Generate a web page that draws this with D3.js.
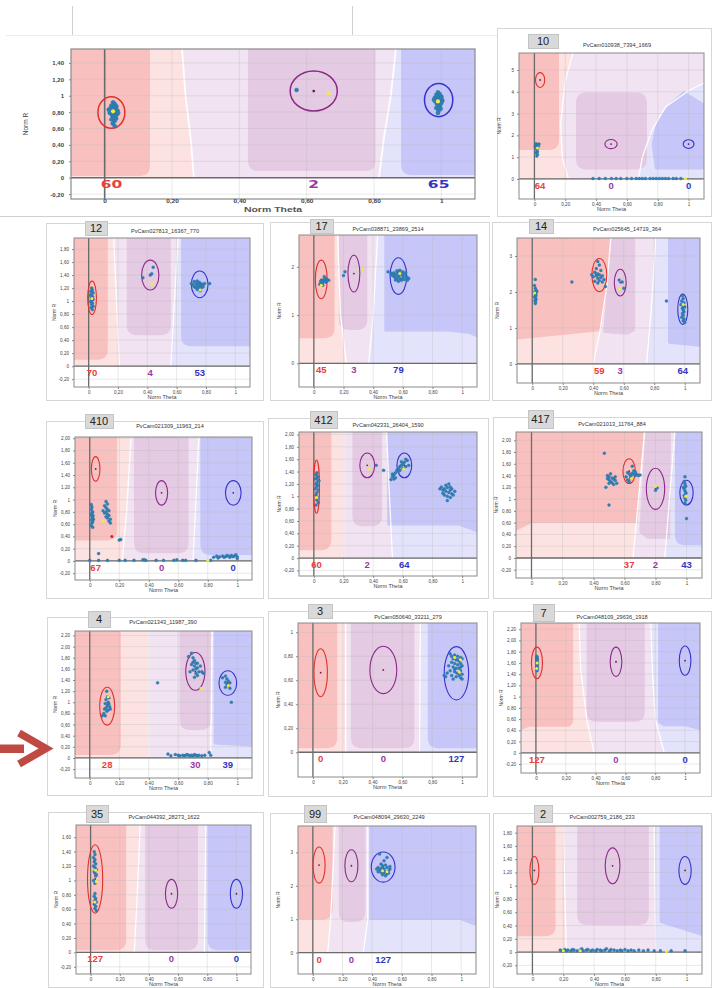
<!DOCTYPE html>
<html><head><meta charset="utf-8">
<script src="https://cdn.jsdelivr.net/npm/d3@7"></script>
<style>html,body{margin:0;padding:0;background:#fff;} svg{display:block;font-family:"Liberation Sans",Arial,sans-serif;}</style>
</head><body><svg id="chart" width="712" height="988"></svg>
<script>
// ---------- tick values ----------
const xTicks = [0, 0.2, 0.4, 0.6, 0.8, 1];
const rTicks14 = [-0.2, 0, 0.2, 0.4, 0.6, 0.8, 1, 1.2, 1.4];
const rTicks16 = [-0.2, 0, 0.2, 0.4, 0.6, 0.8, 1, 1.2, 1.4, 1.6];
const rTicks18 = [-0.2, 0, 0.2, 0.4, 0.6, 0.8, 1, 1.2, 1.4, 1.6, 1.8];
const rTicks20 = [-0.2, 0, 0.2, 0.4, 0.6, 0.8, 1, 1.2, 1.4, 1.6, 1.8, 2];
const rTicks22 = [-0.2, 0, 0.2, 0.4, 0.6, 0.8, 1, 1.2, 1.4, 1.6, 1.8, 2, 2.2];
const rTicks10 = [0, 0.2, 0.4, 0.6, 0.8, 1];
const rTicksI2 = [0, 1, 2];
const rTicksI3 = [0, 1, 2, 3];
const rTicksI5 = [0, 1, 2, 3, 4, 5];

// ---------- assay names and plate numbers ----------
const assayNames = {
  p10: "PvCam010938_7394_1669", p12: "PvCam027813_16367_770", p17: "PvCam038871_23869_2514",
  p14: "PvCam025645_14719_364", p410: "PvCam021309_11963_214", p412: "PvCam042331_26404_1590",
  p417: "PvCam021013_11764_884", p4: "PvCam021343_11987_390", p3: "PvCam050640_33211_279",
  p7: "PvCam048109_29636_1918", p35: "PvCam044392_28273_1622", p99: "PvCam048094_29630_2249",
  p2: "PvCam002759_2186_233"
};
const plateNumbers = {p10:"10",p12:"12",p17:"17",p14:"14",p410:"410",p412:"412",p417:"417",p4:"4",p3:"3",p7:"7",p35:"35",p99:"99",p2:"2"};

// ---------- genotype call counts (allele 1, heterozygote, allele 2) ----------
const mainCounts = [60, 2, 65];
const p10Counts = [64, 0, 0];
const p12Counts = [70, 4, 53];
const p17Counts = [45, 3, 79];
const p14Counts = [59, 3, 64];
const p410Counts = [67, 0, 0];
const p412Counts = [60, 2, 64];
const p417Counts = [37, 2, 43];
const p4Counts = [28, 30, 39];
const p3Counts = [0, 0, 127];
const p7Counts = [127, 0, 0];
const p35Counts = [127, 0, 0];
const p99Counts = [0, 0, 127];
const p2Counts = null;

// ---------- cluster ellipses [theta, R, rTheta, rR] ----------
const mainEll = [[0.02,0.795,0.04,0.193],[0.621,1.057,0.07,0.244],[0.992,0.947,0.042,0.203]];
const p10Ell = [[0.037,4.54,0.03,0.34],[0.497,1.6,0.04,0.21],[1.0,1.6,0.035,0.2]];
const p12Ell = [[0.023,1.05,0.03,0.257],[0.42,1.4,0.059,0.23],[0.757,1.257,0.057,0.205]];
const p17Ell = [[0.05,1.74,0.04,0.4],[0.27,1.86,0.04,0.38],[0.57,1.81,0.056,0.38]];
const p14Ell = [[0.44,2.47,0.049,0.46],[0.577,2.26,0.039,0.37],[0.987,1.52,0.033,0.42]];
const p410Ell = [[0.04,1.5,0.029,0.2],[0.487,1.11,0.041,0.2],[0.973,1.11,0.053,0.2]];
const p412Ell = [[0.018,1.155,0.02,0.43],[0.36,1.5,0.05,0.2],[0.61,1.5,0.05,0.2]];
const p417Ell = [[0.63,1.475,0.04,0.21],[0.8,1.175,0.059,0.35],[1.0,1.11,0.043,0.21]];
const p4Ell = [[0.118,0.93,0.051,0.34],[0.716,1.555,0.065,0.34],[0.936,1.345,0.06,0.22]];
const p3Ell = [[0.052,0.663,0.045,0.2],[0.472,0.686,0.09,0.197],[0.962,0.658,0.082,0.222]];
const p7Ell = [[0.007,1.6,0.037,0.28],[0.537,1.62,0.039,0.26],[1.0,1.64,0.039,0.26]];
const p35Ell = [[0.031,1.02,0.052,0.475],[0.555,0.815,0.042,0.2],[1.0,0.815,0.042,0.2]];
const p99Ell = [[0.042,2.62,0.041,0.54],[0.26,2.6,0.044,0.48],[0.474,2.56,0.08,0.45]];
const p2Ell = [[0.013,1.23,0.029,0.21],[0.52,1.3,0.048,0.27],[0.99,1.23,0.04,0.21]];

// ---------- samples [Norm Theta, Norm R] ----------
const mainPts = [[0.025,0.92],[0.03,0.9],[0.02,0.88],[0.035,0.87],[0.028,0.86],[0.018,0.85],[0.032,0.84],[0.024,0.83],[0.038,0.82],[0.02,0.81],[0.03,0.8],[0.015,0.79],[0.027,0.78],[0.036,0.77],[0.022,0.76],[0.031,0.75],[0.026,0.73],[0.034,0.72],[0.02,0.71],[0.029,0.69],[0.024,0.66],[0.03,0.63],[0.04,0.79],[0.012,0.83],
  [0.99,1.04],[0.995,1.02],[0.985,1.01],[1.0,0.99],[0.99,0.98],[0.98,0.97],[0.997,0.96],[0.988,0.95],[1.003,0.94],[0.982,0.93],[0.993,0.92],[1.0,0.91],[0.987,0.9],[0.996,0.88],[0.99,0.87],[0.985,0.85],[0.998,0.84],[0.992,0.82],[0.99,0.79],[1.0,0.97],[0.978,0.95],
  [0.57,1.07]];
const mainHi = [[0.025,0.81],[0.99,0.93],[0.665,1.03]];

const p10Pts = [[0.01,1.62],[0.02,1.58],[0.015,1.55],[0.025,1.5],[0.01,1.45],[0.02,1.4],[0.015,1.33],[0.02,1.25],[0.01,1.2],[0.02,1.12],[0.015,1.05],[0.03,1.6],[0.005,1.5],
  [0.38,0.02],[0.42,0.02],[0.46,0.02],[0.5,0.02],[0.53,0.02],[0.56,0.02],[0.6,0.02],[0.63,0.02],[0.66,0.02],[0.68,0.02],[0.7,0.02],[0.72,0.02],[0.75,0.02],[0.77,0.02],[0.79,0.02],[0.81,0.02],[0.83,0.02],[0.85,0.02],[0.87,0.02],[0.9,0.02],[0.92,0.02],[0.95,0.02]];
const p10Hi = [[0.02,1.42],[0.98,0.02]];

const p12Pts = [[0.02,1.2],[0.025,1.17],[0.015,1.15],[0.03,1.13],[0.02,1.11],[0.012,1.09],[0.027,1.07],[0.018,1.05],[0.03,1.03],[0.02,1.01],[0.014,0.99],[0.026,0.97],[0.02,0.95],[0.03,0.92],[0.017,0.9],[0.025,0.87],
  [0.44,1.52],[0.43,1.42],[0.42,1.4],[0.37,1.36],
  [0.72,1.3],[0.74,1.31],[0.75,1.29],[0.73,1.27],[0.76,1.28],[0.77,1.26],[0.71,1.25],[0.74,1.24],[0.76,1.23],[0.78,1.25],[0.73,1.21],[0.75,1.2],[0.77,1.21],[0.74,1.18],[0.76,1.16],[0.72,1.22],[0.79,1.27],[0.7,1.27],[0.75,1.26],[0.78,1.22],[0.825,1.27]];
const p12Hi = [[0.022,1.04],[0.43,1.27],[0.76,1.17]];

const p17Pts = [[0.04,1.64],[0.05,1.66],[0.06,1.68],[0.055,1.72],[0.07,1.74],[0.065,1.7],[0.08,1.76],[0.075,1.72],[0.09,1.74],[0.085,1.7],[0.06,1.62],[0.1,1.72],[0.07,1.8],[0.08,1.68],[0.045,1.7],
  [0.2,1.82],[0.21,1.9],
  [0.52,1.87],[0.53,1.85],[0.54,1.88],[0.55,1.83],[0.56,1.86],[0.57,1.9],[0.58,1.84],[0.59,1.87],[0.6,1.82],[0.61,1.85],[0.62,1.8],[0.63,1.78],[0.55,1.78],[0.56,1.75],[0.58,1.76],[0.6,1.77],[0.57,1.8],[0.59,1.72],[0.61,1.74],[0.54,1.8],[0.63,1.72],[0.58,1.93],[0.56,1.92],[0.62,1.88],[0.5,1.9],[0.53,1.82],[0.6,1.9],[0.64,1.76],[0.57,1.7],[0.55,1.73]];
const p17Hi = [[0.05,1.62],[0.33,1.95],[0.58,1.86]];

const p14Pts = [[0.02,2.35],[0.015,2.18],[0.02,2.1],[0.025,2.05],[0.015,2.0],[0.02,1.95],[0.025,1.9],[0.015,1.87],[0.02,1.84],[0.025,1.8],[0.018,1.76],[0.022,1.72],[0.02,1.68],[0.025,1.98],[0.03,2.02],
  [0.26,2.28],
  [0.43,2.85],[0.44,2.75],[0.42,2.65],[0.45,2.6],[0.41,2.55],[0.43,2.5],[0.44,2.48],[0.46,2.45],[0.42,2.45],[0.4,2.42],[0.45,2.4],[0.43,2.38],[0.47,2.35],[0.44,2.32],[0.41,2.3],[0.46,2.28],[0.43,2.25],[0.48,2.15],[0.42,2.5],[0.39,2.48],
  [0.57,2.33],[0.59,2.28],[0.6,2.1],
  [0.88,1.75],
  [0.985,1.9],[0.99,1.82],[0.98,1.75],[0.995,1.7],[0.99,1.62],[0.985,1.55],[0.99,1.5],[0.995,1.45],[0.985,1.4],[0.99,1.35],[0.98,1.3],[0.995,1.25],[0.99,1.2],[1.0,1.15],[0.975,1.65],[1.0,1.58]];
const p14Hi = [[0.015,1.97],[0.575,2.1],[0.99,1.65]];

const p410Pts = [[0.01,0.92],[0.015,0.88],[0.012,0.84],[0.02,0.8],[0.015,0.78],[0.01,0.75],[0.02,0.72],[0.018,0.7],[0.012,0.67],[0.02,0.64],[0.015,0.62],[0.01,0.58],[0.02,0.55],[0.025,0.68],[0.022,0.74],
  [0.11,0.97],[0.12,0.93],[0.1,0.9],[0.11,0.87],[0.12,0.84],[0.13,0.82],[0.11,0.8],[0.1,0.78],[0.12,0.76],[0.13,0.74],[0.11,0.72],[0.12,0.7],[0.14,0.68],[0.13,0.65],[0.14,0.62],[0.09,0.82],
  [0.2,0.34],[0.21,0.35],[0.06,0.12],
  [0.0,0.01],[0.06,0.01],[0.12,0.01],[0.2,0.01],[0.24,0.01],[0.3,0.01],[0.36,0.02],[0.37,0.02],[0.38,0.01],[0.45,0.01],[0.5,0.01],[0.57,0.01],[0.59,0.02],[0.63,0.01],[0.65,0.01],[0.72,0.01],[0.82,0.01],
  [0.84,0.06],[0.86,0.08],[0.88,0.07],[0.9,0.08],[0.92,0.07],[0.94,0.08],[0.96,0.09],[0.98,0.08],[1.0,0.07],[0.87,0.05],[0.91,0.06],[0.95,0.06],[0.99,0.1],[1.0,0.04],[0.93,0.09],[0.97,0.07]];
const p410Hi = [[0.09,0.65],[0.8,0.01]];
const p410Red = [[0.15,0.4]];

const p412Pts = [[0.02,1.38],[0.015,1.35],[0.025,1.32],[0.02,1.3],[0.01,1.28],[0.03,1.26],[0.02,1.22],[0.015,1.2],[0.025,1.18],[0.02,1.15],[0.01,1.12],[0.03,1.1],[0.02,1.06],[0.015,1.02],[0.025,0.98],[0.02,0.94],[0.03,0.9],[0.015,0.86],[0.035,1.25],
  [0.42,1.5],[0.47,1.42],
  [0.52,1.27],[0.53,1.32],[0.54,1.35],[0.55,1.38],[0.56,1.42],[0.57,1.45],[0.58,1.48],[0.59,1.5],[0.6,1.52],[0.61,1.55],[0.62,1.6],[0.63,1.58],[0.58,1.42],[0.55,1.3],[0.57,1.4],[0.64,1.5],[0.6,1.45],[0.54,1.28],[0.59,1.56],[0.53,1.36],[0.62,1.48],
  [0.86,1.15],[0.87,1.1],[0.88,1.12],[0.89,1.08],[0.9,1.14],[0.91,1.06],[0.92,1.1],[0.93,1.04],[0.88,1.02],[0.9,1.0],[0.92,0.98],[0.94,1.02],[0.89,1.18],[0.91,1.2],[0.87,1.05],[0.93,1.12],[0.9,0.93],[0.95,1.08],[0.85,1.12],[0.92,1.15]];
const p412Hi = [[0.02,0.98],[0.375,1.44],[0.605,1.44]];

const p417Pts = [[0.49,1.4],[0.5,1.38],[0.51,1.43],[0.52,1.36],[0.5,1.33],[0.53,1.34],[0.51,1.3],[0.54,1.32],[0.52,1.28],[0.55,1.27],[0.53,1.25],[0.49,1.35],[0.5,1.27],[0.54,1.38],
  [0.47,1.78],[0.48,1.2],[0.5,0.9],
  [0.62,1.45],[0.63,1.43],[0.64,1.4],[0.65,1.44],[0.66,1.42],[0.67,1.4],[0.68,1.42],[0.69,1.4],[0.7,1.41],[0.64,1.35],[0.63,1.3],[0.66,1.48],[0.65,1.56],[0.61,1.38],[0.62,1.33],[0.67,1.46],[0.64,1.38],
  [0.81,1.19],[0.8,1.15],
  [0.99,1.38],[0.985,1.3],[0.99,1.26],[0.995,1.22],[0.985,1.18],[0.99,1.14],[0.995,1.1],[0.985,1.06],[0.99,1.02],[0.995,0.98],[0.99,0.93],[0.98,1.2],[1.0,0.67]];
const p417Hi = [[0.645,1.35],[0.8,1.22],[0.995,1.05]];

const p4Pts = [[0.115,1.2],[0.12,1.1],[0.13,1.08],[0.11,1.05],[0.125,1.0],[0.105,0.98],[0.12,0.95],[0.135,0.92],[0.11,0.9],[0.1,0.88],[0.125,0.86],[0.115,0.84],[0.095,0.8],[0.105,0.76],[0.085,0.76],[0.14,0.88],[0.13,0.97],
  [0.46,1.35],
  [0.69,1.88],[0.67,1.82],[0.7,1.8],[0.71,1.75],[0.7,1.72],[0.72,1.7],[0.69,1.68],[0.71,1.65],[0.73,1.62],[0.72,1.6],[0.7,1.58],[0.74,1.55],[0.72,1.52],[0.73,1.48],[0.76,1.55],[0.77,1.52],[0.68,1.55],[0.71,1.45],[0.75,1.65],[0.73,1.7],
  [0.92,1.47],[0.9,1.44],[0.93,1.42],[0.94,1.38],[0.92,1.36],[0.95,1.35],[0.93,1.32],[0.94,1.3],[0.92,1.27],[0.95,1.25],[0.96,1.0],
  [0.53,0.07],[0.55,0.04],[0.58,0.06],[0.6,0.05],[0.61,0.04],[0.63,0.05],[0.64,0.04],[0.65,0.05],[0.66,0.06],[0.67,0.05],[0.68,0.04],[0.69,0.05],[0.7,0.04],[0.71,0.06],[0.72,0.05],[0.73,0.04],[0.74,0.05],[0.76,0.04],[0.78,0.05],[0.81,0.1],[0.82,0.05]];
const p4Hi = [[0.125,1.1],[0.755,1.25],[0.94,1.3]];

const p3Pts = [[0.92,0.82],[0.93,0.8],[0.95,0.81],[0.97,0.8],[0.99,0.79],[0.94,0.78],[0.96,0.77],[0.98,0.76],[1.0,0.78],[0.93,0.75],[0.95,0.74],[0.97,0.73],[0.99,0.74],[0.91,0.72],[0.94,0.71],[0.96,0.7],[0.98,0.7],[1.0,0.72],[0.92,0.68],[0.95,0.67],[0.97,0.66],[0.99,0.68],[0.9,0.66],[0.93,0.64],[0.96,0.63],[0.98,0.64],[1.0,0.65],[0.88,0.64],[0.89,0.63],[0.94,0.61],[0.99,0.62],[1.0,0.61],[0.95,0.69],[0.97,0.77],[0.99,0.71]];
const p3Hi = [[0.95,0.79],[0.99,0.77],[0.98,0.67]];

const p7Pts = [[0.005,1.72],[0.008,1.7],[0.004,1.68],[0.01,1.66],[0.006,1.64],[0.008,1.62],[0.004,1.6],[0.01,1.58],[0.006,1.56],[0.008,1.54],[0.004,1.52],[0.01,1.5],[0.006,1.48],[0.008,1.46]];
const p7Hi = [[0.008,1.6],[0.005,1.5]];

const p35Pts = [[0.025,1.4],[0.03,1.36],[0.02,1.32],[0.03,1.29],[0.025,1.26],[0.035,1.23],[0.02,1.2],[0.03,1.18],[0.04,1.15],[0.025,1.12],[0.03,1.1],[0.035,1.06],[0.02,1.0],[0.03,0.96],[0.04,1.08],[0.03,0.82],[0.025,0.78],[0.035,0.75],[0.03,0.72],[0.04,0.7],[0.025,0.67],[0.035,0.64],[0.03,0.61],[0.04,0.58]];
const p35Hi = [[0.035,1.14],[0.04,0.98],[0.03,0.7]];

const p99Pts = [[0.45,2.95],[0.5,2.85],[0.48,2.75],[0.46,2.65],[0.47,2.6],[0.49,2.62],[0.44,2.55],[0.46,2.52],[0.48,2.5],[0.5,2.55],[0.52,2.5],[0.45,2.47],[0.47,2.45],[0.49,2.42],[0.51,2.44],[0.46,2.4],[0.48,2.38],[0.5,2.36],[0.47,2.33],[0.49,2.3],[0.44,2.42],[0.52,2.58],[0.43,2.5],[0.51,2.38]];
const p99Hi = [[0.47,2.45],[0.5,2.42]];

const p2Pts = [[0.18,0.03],[0.19,0.02],[0.21,0.04],[0.22,0.02],[0.23,0.03],[0.25,0.02],[0.26,0.04],[0.27,0.03],[0.29,0.02],[0.31,0.03],[0.32,0.05],[0.33,0.02],[0.35,0.03],[0.36,0.04],[0.38,0.02],[0.39,0.03],[0.41,0.02],[0.42,0.04],[0.44,0.03],[0.45,0.02],[0.47,0.03],[0.48,0.05],[0.5,0.02],[0.51,0.04],[0.53,0.03],[0.55,0.02],[0.57,0.03],[0.58,0.02],[0.6,0.04],[0.62,0.02],[0.64,0.03],[0.66,0.02],[0.69,0.03],[0.72,0.02],[0.75,0.03],[0.79,0.02],[0.83,0.02],[0.9,0.02],[0.99,0.02]];
const p2Hi = [[0.2,0.02],[0.31,0.02],[0.87,0.01]];

// ---------- calling regions: band boundaries and core regions ----------
const regions = {
  main: {b1:[[0.265,0],[0.255,0.5],[0.24,1.0],[0.23,1.57]], b2:[[0.815,0],[0.83,0.5],[0.85,1.0],[0.865,1.57]],
    core:[{c:0,rect:[-0.15,0.13,0.04]},{c:1,rect:[0.43,0.8,0.1]},{c:2,rect:[0.885,1.15,0.05]}]},
  p10: {b1:[[0.22,0],[0.18,1.0],[0.17,2.5],[0.2,4.5],[0.25,5.78]], b2:[[0.675,0],[0.7,1.0],[0.76,2.2],[0.85,3.3],[1.0,4.05],[1.1,4.4],[1.15,5.78]],
    core:[{c:0,rect:[-0.15,0.15,1.4]},{c:1,rect:[0.28,0.72,0.5,3.9]},{c:2,poly:[[0.79,0.5],[0.77,1.6],[0.8,2.6],[0.88,3.4],[0.97,3.95],[1.05,3.6],[1.15,3.2],[1.15,0.5]]}]},
  p12: {b1:[[0.21,0],[0.19,1.0],[0.17,1.97]], b2:[[0.56,0],[0.58,0.8],[0.61,1.97]],
    core:[{c:0,rect:[-0.15,0.12,0.12]},{c:1,rect:[0.27,0.55,0.5]},{c:2,rect:[0.64,1.15,0.33]}]},
  p17: {b1:[[0.22,0],[0.18,1.0],[0.16,2.66]], b2:[[0.37,0],[0.4,1.0],[0.43,2.66]],
    core:[{c:0,rect:[-0.15,0.13,0.55]},{c:1,rect:[0.18,0.35,0.72]},{c:2,poly:[[0.485,0.69],[0.485,2.8],[1.15,2.8],[1.15,0.5],[1.05,0.64],[0.9,0.69]]}]},
  p14: {b1:[[0.4,0],[0.445,0.94],[0.49,2.2],[0.515,3.5]], b2:[[0.75,0],[0.78,1.5],[0.81,3.5]],
    core:[{c:0,poly:[[-0.15,0.7],[0.44,0.95],[0.48,2.0],[0.505,3.6],[-0.15,3.6]]},{c:1,poly:[[0.475,0.9],[0.53,3.6],[0.665,3.6],[0.665,0.95],[0.62,0.85]]},{c:2,poly:[[0.9,0.6],[0.9,3.6],[1.15,3.6],[1.15,0.5]]}]},
  p410: {b1:[[0.22,0],[0.25,0.8],[0.28,2.02]], b2:[[0.7,0],[0.72,1.0],[0.74,2.02]],
    core:[{c:0,rect:[-0.15,0.175,0.36]},{c:1,rect:[0.31,0.66,0.15]},{c:2,rect:[0.76,1.15,0.12]}]},
  p412: {b1:[[0.2,0],[0.2,2.04]], b2:[[0.53,0],[0.51,1.0],[0.49,2.04]],
    core:[{c:0,rect:[-0.15,0.108,0.15]},{c:1,rect:[0.27,0.45,0.54]},{c:2,poly:[[0.505,0.55],[0.505,2.1],[1.15,2.1],[1.15,0.4],[0.98,0.55]]}]},
  p417: {b1:[[0.655,0],[0.69,1.0],[0.73,2.14]], b2:[[0.86,0],[0.89,1.0],[0.925,2.14]],
    core:[{c:0,poly:[[-0.15,0.42],[-0.15,2.2],[0.715,2.2],[0.675,0.62],[0.0,0.62]]},{c:1,poly:[[0.705,0.45],[0.745,2.2],[0.89,2.2],[0.885,0.35],[0.75,0.35]]},{c:2,rect:[0.935,1.15,0.24]}]},
  p4: {b1:[[0.4,0],[0.4,2.28]], b2:[[0.82,0],[0.83,2.28]],
    core:[{c:0,rect:[-0.15,0.2,0.08]},{c:1,rect:[0.62,0.81,0.53]},{c:2,poly:[[0.85,0.27],[0.85,2.3],[1.15,2.3],[1.15,0.22]]}]},
  p3: {b1:[[0.22,0],[0.22,1.08]], b2:[[0.715,0],[0.72,1.08]],
    core:[{c:0,rect:[-0.15,0.153,0.047]},{c:1,rect:[0.265,0.67,0.047]},{c:2,rect:[0.78,1.15,0.047]}]},
  p7: {b1:[[0.39,0],[0.34,0.6],[0.3,1.5],[0.29,2.31]], b2:[[0.86,0],[0.8,0.6],[0.78,1.5],[0.77,2.31]],
    core:[{c:0,poly:[[-0.15,0.38],[-0.05,0.49],[0.22,0.49],[0.24,0.55],[0.24,2.4],[-0.15,2.4]]},{c:1,rect:[0.35,0.72,0.58]},{c:2,poly:[[0.83,0.55],[0.83,2.4],[1.15,2.4],[1.15,0.4],[1.0,0.5],[0.86,0.5]]}]},
  p35: {b1:[[0.3,0],[0.32,0.8],[0.34,1.77]], b2:[[0.78,0],[0.79,1.77]],
    core:[{c:0,rect:[-0.15,0.234,0.05]},{c:1,rect:[0.385,0.726,0.05]},{c:2,rect:[0.814,1.15,0.05]}]},
  p99: {b1:[[0.1,0],[0.12,1.0],[0.15,3.79]], b2:[[0.34,0],[0.37,1.0],[0.37,3.79]],
    core:[{c:0,rect:[-0.15,0.123,1.03]},{c:1,rect:[0.185,0.344,0.96]},{c:2,poly:[[0.39,1.02],[0.39,3.9],[1.15,3.9],[1.15,0.75],[1.0,1.02]]}]},
  p2: {b1:[[0.22,0],[0.2,1.9]], b2:[[0.8,0],[0.79,1.9]],
    core:[{c:0,rect:[-0.15,0.14,0.26]},{c:1,rect:[0.3,0.745,0.43]},{c:2,poly:[[0.835,0.46],[0.835,1.95],[1.15,1.95],[1.15,0.23]]}]}
};

// ---------- page layout (pixels) ----------
const layout = {
  main: {plot:[71,49,475,199], ydom:[-0.26,1.57], ticks:rTicks14, big:true},
  p10:  {plot:[519,53,704,199], ydom:[-0.92,5.78], ticks:rTicksI5, card:[497,28,214,188], box:[528,34,30,14], title:[617,47]},
  p12:  {plot:[74,238,250,387], ydom:[-0.32,1.97], ticks:rTicks18, card:[46,223,217,177], box:[85,221,22,14], title:[165,233]},
  p17:  {plot:[299,235,477,387], ydom:[-0.49,2.66], ticks:rTicksI2, card:[270,222,219,178], box:[310,219,23,14], title:[388,231]},
  p14:  {plot:[517,238,700,383], ydom:[-0.53,3.5], ticks:rTicksI3, card:[492,222,219,178], box:[529,219,24,14], title:[627,231]},
  p410: {plot:[75,437,252,580], ydom:[-0.31,2.02], ticks:rTicks20, card:[46,421,217,177], box:[85,414,28,14], title:[170,428]},
  p412: {plot:[299,432,477,576], ydom:[-0.29,2.04], ticks:rTicks20, card:[268,418,220,180], box:[310,411,27,17], title:[388,427]},
  p417: {plot:[516,432,702,578], ydom:[-0.34,2.14], ticks:rTicks20, card:[493,417,218,181], box:[528,410,25,18], title:[612,426]},
  p4:   {plot:[75,631,252,778], ydom:[-0.36,2.28], ticks:rTicks22, card:[47,617,216,178], box:[88,611,22,16], title:[163,624]},
  p3:   {plot:[298,623,477,777], ydom:[-0.206,1.077], ticks:rTicks10, card:[268,611,219,185], box:[308,604,24,14], title:[408,619]},
  p7:   {plot:[521,623,700,773], ydom:[-0.36,2.31], ticks:rTicks22, card:[493,611,218,185], box:[533,604,21,17], title:[612,619]},
  p35:  {plot:[76,825,251,974], ydom:[-0.3,1.77], ticks:rTicks16, card:[48,812,215,175], box:[86,805,22,17], title:[164,819]},
  p99:  {plot:[298,826,476,974], ydom:[-0.64,3.79], ticks:rTicksI3, card:[270,813,219,174], box:[304,805,22,17], title:[389,819]},
  p2:   {plot:[517,826,702,974], ydom:[-0.33,1.9], ticks:rTicks18, card:[493,813,218,174], box:[534,805,18,17], title:[602,819]}
};

const panelData = {
  main:{pts:mainPts,hi:mainHi,ell:mainEll,counts:mainCounts},
  p10:{pts:p10Pts,hi:p10Hi,ell:p10Ell,counts:p10Counts},
  p12:{pts:p12Pts,hi:p12Hi,ell:p12Ell,counts:p12Counts},
  p17:{pts:p17Pts,hi:p17Hi,ell:p17Ell,counts:p17Counts},
  p14:{pts:p14Pts,hi:p14Hi,ell:p14Ell,counts:p14Counts},
  p410:{pts:p410Pts,hi:p410Hi,red:p410Red,ell:p410Ell,counts:p410Counts},
  p412:{pts:p412Pts,hi:p412Hi,ell:p412Ell,counts:p412Counts},
  p417:{pts:p417Pts,hi:p417Hi,ell:p417Ell,counts:p417Counts},
  p4:{pts:p4Pts,hi:p4Hi,ell:p4Ell,counts:p4Counts},
  p3:{pts:p3Pts,hi:p3Hi,ell:p3Ell,counts:p3Counts},
  p7:{pts:p7Pts,hi:p7Hi,ell:p7Ell,counts:p7Counts},
  p35:{pts:p35Pts,hi:p35Hi,ell:p35Ell,counts:p35Counts},
  p99:{pts:p99Pts,hi:p99Hi,ell:p99Ell,counts:p99Counts},
  p2:{pts:p2Pts,hi:p2Hi,ell:p2Ell,counts:p2Counts}
};

// ---------- colours ----------
const lightFill = ["#fde2e2", "#f1e3f1", "#e3e3fb"];
const coreFill  = ["#f9c0c0", "#e4cae3", "#c6c6f8"];
const ellStroke = ["#e0302c", "#8a2a88", "#3434cc"];
const countFill = ["#e8403a", "#9a38a4", "#3333c4"];

const svg = d3.select("#chart");
const defs = svg.append("defs");

// Decimal axes print whole numbers above 1 with two decimals ("2,00"), like the software does.
function tickFormatter(ticks) {
  const decimal = ticks.some(v => !Number.isInteger(v));
  return v => {
    const r = Math.round(v * 100) / 100;
    if (r === 0) return "0";
    if (r === 1) return "1";
    if (Number.isInteger(r) && !decimal) return String(r);
    return (r < 0 ? "-" : "") + Math.abs(r).toFixed(2).replace(".", ",");
  };
}

function drawPanel(id) {
  const L = layout[id], R = regions[id], D = panelData[id];
  const [l, t, r, b] = L.plot;
  const big = !!L.big;
  const g = svg.append("g");

  if (L.card) {
    g.append("rect").attr("x", L.card[0] + 0.5).attr("y", L.card[1] + 0.5)
      .attr("width", L.card[2]).attr("height", L.card[3])
      .attr("fill", "#fff").attr("stroke", "#d6d6d6");
  }

  const x = d3.scaleLinear().domain([-0.1, 1.1]).range([l, r]);
  const y = d3.scaleLinear().domain(L.ydom).range([b, t]);
  const top = L.ydom[1] + 1;
  const line = d3.line().x(d => x(d[0])).y(d => y(d[1]));

  defs.append("clipPath").attr("id", "clip-" + id)
    .append("rect").attr("x", l).attr("y", t).attr("width", r - l).attr("height", b - t);
  const pg = g.append("g").attr("clip-path", `url(#clip-${id})`);
  pg.append("rect").attr("x", l).attr("y", t).attr("width", r - l).attr("height", b - t).attr("fill", "#fff");

  // light decision bands above R = 0
  const ext = pts => pts.concat([[pts[pts.length - 1][0], top]]);
  const b1 = ext(R.b1), b2 = ext(R.b2);
  const bands = [
    [[-0.3, 0]].concat(b1, [[-0.3, top]]),
    b1.concat(b2.slice().reverse()),
    b2.concat([[1.3, top], [1.3, 0]])
  ];
  bands.forEach((p, i) => pg.append("path").attr("d", line(p) + "Z").attr("fill", lightFill[i]));

  // core regions
  R.core.forEach(z => {
    let d;
    if (z.rect) {
      const x0 = x(z.rect[0]), x1 = x(z.rect[1]), yb = y(z.rect[2]);
      const rad = Math.min(9, (x1 - x0) / 2);
      if (z.rect.length > 3) {
        const yt = y(z.rect[3]);
        d = `M${x0},${yt + rad}Q${x0},${yt} ${x0 + rad},${yt}L${x1 - rad},${yt}Q${x1},${yt} ${x1},${yt + rad}` +
            `L${x1},${yb - rad}Q${x1},${yb} ${x1 - rad},${yb}L${x0 + rad},${yb}Q${x0},${yb} ${x0},${yb - rad}Z`;
      } else {
        const yt = y(top);
        d = `M${x0},${yt}L${x0},${yb - rad}Q${x0},${yb} ${x0 + rad},${yb}L${x1 - rad},${yb}Q${x1},${yb} ${x1},${yb - rad}L${x1},${yt}Z`;
      }
    } else {
      d = line(z.poly) + "Z";
    }
    pg.append("path").attr("d", d).attr("fill", coreFill[z.c])
      .attr("stroke", coreFill[z.c]).attr("stroke-width", 3).attr("stroke-linejoin", "round");
  });

  // white boundaries between bands
  [b1, b2].forEach(p => pg.append("path").attr("d", line(p)).attr("fill", "none")
    .attr("stroke", "#fff").attr("stroke-width", big ? 1.8 : 1.3).attr("opacity", 0.95));

  // white strip below R = 0
  pg.append("rect").attr("x", l).attr("y", y(0)).attr("width", r - l).attr("height", b - y(0)).attr("fill", "#fff");

  // grid
  xTicks.forEach(v => pg.append("line").attr("x1", x(v)).attr("x2", x(v)).attr("y1", t).attr("y2", b)
    .attr("stroke", "#b9b9b9").attr("stroke-opacity", 0.45).attr("stroke-width", 0.7));
  L.ticks.forEach(v => pg.append("line").attr("x1", l).attr("x2", r).attr("y1", y(v)).attr("y2", y(v))
    .attr("stroke", "#b9b9b9").attr("stroke-opacity", 0.45).attr("stroke-width", 0.7));

  // zero lines
  pg.append("line").attr("x1", x(0)).attr("x2", x(0)).attr("y1", t).attr("y2", b)
    .attr("stroke", "#6b6b6b").attr("stroke-width", big ? 1.6 : 1.3);
  pg.append("line").attr("x1", l).attr("x2", r).attr("y1", y(0)).attr("y2", y(0))
    .attr("stroke", "#6b6b6b").attr("stroke-width", big ? 1.6 : 1.3);

  // cluster ellipses and centres
  D.ell.forEach((e, i) => {
    pg.append("ellipse").attr("cx", x(e[0])).attr("cy", y(e[1]))
      .attr("rx", x(e[0] + e[2]) - x(e[0])).attr("ry", y(e[1]) - y(e[1] + e[3]))
      .attr("fill", "none").attr("stroke", ellStroke[i]).attr("stroke-width", big ? 1.5 : 1.1);
    pg.append("circle").attr("cx", x(e[0])).attr("cy", y(e[1])).attr("r", big ? 1.4 : 0.9).attr("fill", "#6a2050");
  });

  // samples
  const pr = big ? 2.1 : 1.5;
  pg.selectAll(null).data(D.pts).join("circle")
    .attr("cx", d => x(d[0])).attr("cy", d => y(d[1])).attr("r", pr)
    .attr("fill", "#2f7fb6").attr("stroke", "#2a6f9c").attr("stroke-width", 0.3);
  if (D.red) pg.selectAll(null).data(D.red).join("circle")
    .attr("cx", d => x(d[0])).attr("cy", d => y(d[1])).attr("r", pr).attr("fill", "#d8202a");
  pg.selectAll(null).data(D.hi).join("circle")
    .attr("cx", d => x(d[0])).attr("cy", d => y(d[1])).attr("r", pr)
    .attr("fill", "#f3ec3c");

  // call counts
  if (D.counts) {
    D.counts.forEach((c, i) => {
      const tx = x(D.ell[i][0]), ty = y(0) + (big ? 10.5 : 10);
      const tEl = g.append("text").attr("text-anchor", "middle").attr("fill", countFill[i])
        .attr("font-weight", "bold").text(c);
      if (big) tEl.attr("font-size", 10).attr("transform", `translate(${tx},${ty}) scale(1.55,1)`)
        .attr("font-family", "DejaVu Sans");
      else tEl.attr("x", tx).attr("y", ty).attr("font-size", 9.5);
    });
  }

  // frame
  g.append("rect").attr("x", l).attr("y", t).attr("width", r - l).attr("height", b - t)
    .attr("fill", "none").attr("stroke", "#8a8a8a").attr("stroke-width", big ? 1.2 : 1);

  // axes
  const tf = big ? 6 : 4.6;
  const ya = g.append("g").attr("transform", `translate(${l},0)`)
    .call(d3.axisLeft(y).tickValues(L.ticks).tickFormat(tickFormatter(L.ticks)).tickSizeInner(2).tickSizeOuter(0).tickPadding(big ? 5 : 3));
  const xa = g.append("g").attr("transform", `translate(0,${b})`)
    .call(d3.axisBottom(x).tickValues(xTicks).tickFormat(tickFormatter(xTicks)).tickSizeInner(big ? 0 : 2).tickSizeOuter(0).tickPadding(big ? 1 : 1.5));
  [ya, xa].forEach(a => {
    a.select(".domain").remove();
    a.selectAll("line").attr("stroke", "#888");
    a.selectAll("text").attr("font-size", tf).attr("fill", "#444")
      .attr("font-family", "Liberation Sans, Arial, sans-serif").attr("font-weight", big ? "bold" : "normal");
  });
  if (big) xa.selectAll("text").attr("font-size", 4.8).attr("transform", "scale(1.35,1)");

  // axis titles
  g.append("text").attr("transform", `translate(${big ? 28 : l - 18},${(t + b) / 2}) rotate(-90)`)
    .attr("text-anchor", "middle").attr("font-size", big ? 6.5 : 5).attr("fill", "#444").text("Norm R");
  const nt = g.append("text").attr("text-anchor", "middle").attr("fill", big ? "#555" : "#444").text("Norm Theta");
  if (big) nt.attr("font-size", 7).attr("font-weight", "bold")
    .attr("transform", `translate(${x(0.5)},${b + 12.5}) scale(1.5,1)`);
  else nt.attr("x", x(0.5)).attr("y", b + 12).attr("font-size", 5.5);

  // plate number tab and assay name
  if (L.box) {
    g.append("rect").attr("x", L.box[0] + 0.5).attr("y", L.box[1] + 0.5).attr("width", L.box[2]).attr("height", L.box[3])
      .attr("fill", "#d9d9d9").attr("stroke", "#c4c4c4");
    g.append("text").attr("x", L.box[0] + L.box[2] / 2).attr("y", L.box[1] + L.box[3] / 2 + 4)
      .attr("text-anchor", "middle").attr("font-size", 11).attr("fill", "#222").text(plateNumbers[id]);
    g.append("text").attr("x", L.title[0]).attr("y", L.title[1]).attr("text-anchor", "middle")
      .attr("font-size", 5.6).attr("fill", "#333").text(assayNames[id]);
  }
}

// page furniture around the large plot
svg.append("line").attr("x1", 6).attr("x2", 500).attr("y1", 35.5).attr("y2", 35.5).attr("stroke", "#ececec");
svg.append("line").attr("x1", 72.5).attr("x2", 72.5).attr("y1", 6).attr("y2", 35).attr("stroke", "#d0d0d0");
svg.append("line").attr("x1", 352.5).attr("x2", 352.5).attr("y1", 6).attr("y2", 35).attr("stroke", "#d0d0d0");
svg.append("line").attr("x1", 0).attr("x2", 490).attr("y1", 216.5).attr("y2", 216.5).attr("stroke", "#cfcfcf");

["main","p10","p12","p17","p14","p410","p412","p417","p4","p3","p7","p35","p99","p2"].forEach(drawPanel);

// pointer arrow at the left margin
const arrow = svg.append("g").attr("fill", "#bf4a44").attr("stroke", "#bf4a44");
arrow.append("rect").attr("x", 0).attr("y", 744.5).attr("width", 24).attr("height", 8.5).attr("stroke", "none");
arrow.append("path").attr("d", "M19,733 L46,748.5 L19,764").attr("fill", "none").attr("stroke-width", 7.5).attr("stroke-linejoin", "miter");
</script></body></html>
